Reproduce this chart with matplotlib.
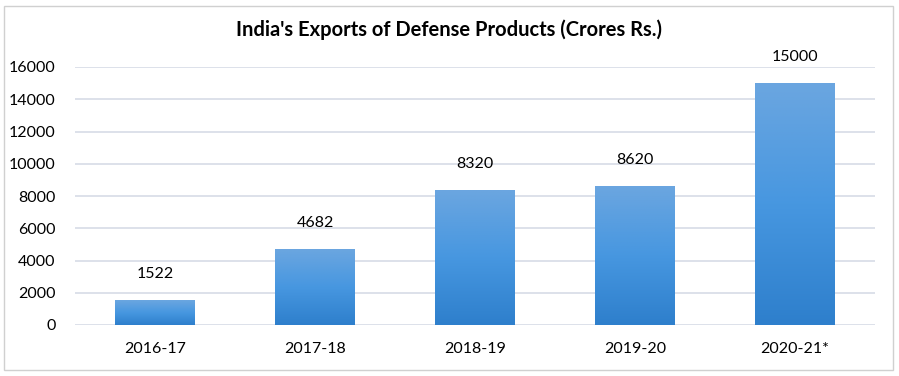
import matplotlib
matplotlib.use('Agg')
import matplotlib.pyplot as plt
import numpy as np
from matplotlib.colors import LinearSegmentedColormap
from matplotlib.patches import Rectangle

YEARS = ['2016-17', '2017-18', '2018-19', '2019-20', '2020-21*']
EXPORTS = [1522, 4682, 8320, 8620, 15000]
YTICKS = [0, 2000, 4000, 6000, 8000, 10000, 12000, 14000, 16000]

plt.rcParams['font.family'] = ['Lato', 'DejaVu Sans']

# bottom -> top colours of the bar gradient
GRAD = LinearSegmentedColormap.from_list('bar', ['#2E7FCC', '#4797E0', '#6BA6E0'])


def main():
    fig = plt.figure(figsize=(8.99, 3.76), dpi=100)
    ax = fig.add_axes([75/899, 51/376, 800/899, 258/376])

    x = np.arange(len(YEARS))
    bars = ax.bar(x, EXPORTS, width=0.5, color='none', zorder=3)
    grad = np.linspace(0, 1, 256).reshape(-1, 1)
    for b in bars:
        x0, y0 = b.get_x(), b.get_y()
        w, h = b.get_width(), b.get_height()
        ax.imshow(grad, cmap=GRAD, origin='lower', aspect='auto',
                  extent=(x0, x0 + w, y0, y0 + h), zorder=3)
    for xi, v in zip(x, EXPORTS):
        ax.annotate(str(v), (xi, v), xytext=(0, 19), textcoords='offset points',
                    ha='center', va='center', fontsize=11.5, color='#000000')

    ax.set_xlim(-0.5, len(YEARS) - 0.5)
    ax.set_ylim(0, 16000)
    ax.set_xticks(x)
    ax.set_xticklabels(YEARS, fontsize=11.5)
    ax.set_yticks(YTICKS)
    ax.set_yticklabels([str(t) for t in YTICKS], fontsize=11.5)
    ax.tick_params(length=0)
    ax.tick_params(axis='x', pad=12)
    ax.tick_params(axis='y', pad=14)
    for s in ax.spines.values():
        s.set_visible(False)
    ax.yaxis.grid(True, color='#DDE1EA', linewidth=1.4, zorder=0)
    ax.set_axisbelow(True)

    fig.text(0.5, 1 - 30/376, "India's Exports of Defense Products (Crores Rs.)",
             ha='center', va='center', fontsize=14.5, fontweight='bold')
    fig.patches.append(Rectangle((4/899, 6/376), 889/899, 364/376, fill=False,
                                 edgecolor='#D0D0D0', linewidth=1,
                                 transform=fig.transFigure))

    plt.savefig('out.png', dpi=100)
    plt.close('all')


if __name__ == '__main__':
    main()
